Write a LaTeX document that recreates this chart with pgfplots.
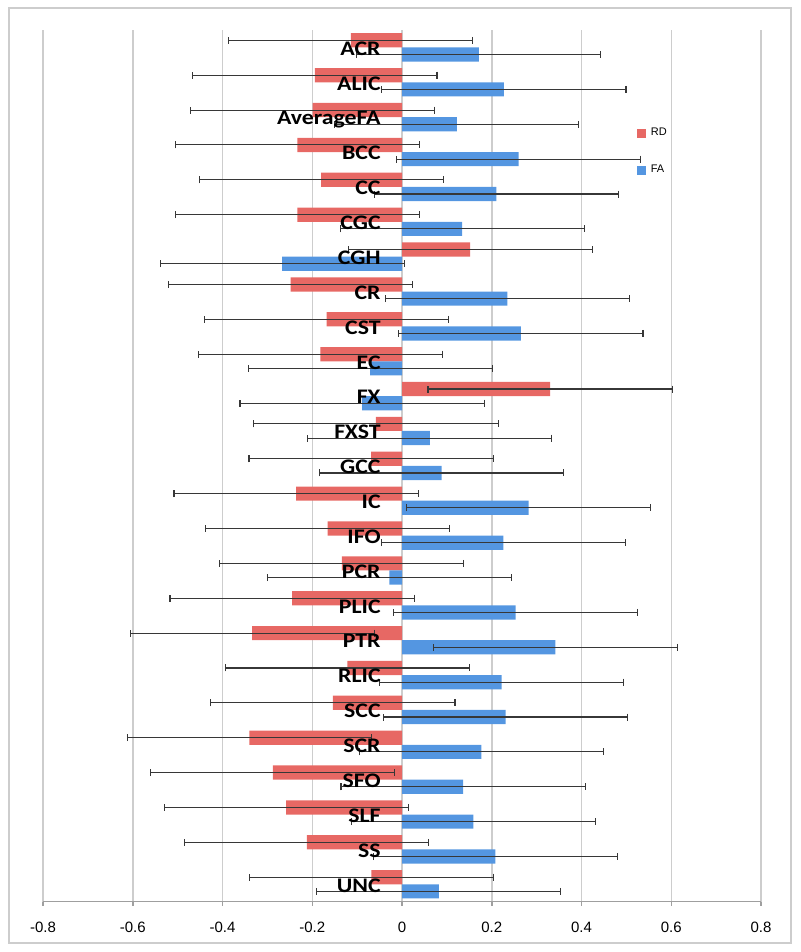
\documentclass[border=0pt]{standalone}
\usepackage{pgfplots}
\pgfplotsset{compat=1.18}
\usepackage{pgfplotstable}
\usepackage{fontspec}
\setmainfont{Liberation Sans}
\newfontfamily\catfont[FakeStretch=1.15]{Carlito}
\definecolor{rdred}{RGB}{231,104,100}
\definecolor{fablue}{RGB}{84,150,225}
\definecolor{gridgray}{RGB}{205,205,205}
\definecolor{errgray}{RGB}{55,55,55}
% idx: category position; yr / yf: bar centres of RD / FA within the slot
\pgfplotstableread{
idx yr yf rd fa err
0 -0.2035 0.2035 -0.114 0.171 0.272
1 0.7965 1.2035 -0.194 0.227 0.272
2 1.7965 2.2035 -0.199 0.122 0.272
3 2.7965 3.2035 -0.233 0.260 0.272
4 3.7965 4.2035 -0.180 0.210 0.272
5 4.7965 5.2035 -0.233 0.134 0.272
6 5.7965 6.2035 0.152 -0.267 0.272
7 6.7965 7.2035 -0.248 0.235 0.272
8 7.7965 8.2035 -0.168 0.265 0.272
9 8.7965 9.2035 -0.182 -0.071 0.272
10 9.7965 10.2035 0.330 -0.089 0.272
11 10.7965 11.2035 -0.058 0.062 0.272
12 11.7965 12.2035 -0.069 0.088 0.272
13 12.7965 13.2035 -0.236 0.282 0.272
14 13.7965 14.2035 -0.166 0.226 0.272
15 14.7965 15.2035 -0.134 -0.028 0.272
16 15.7965 16.2035 -0.245 0.253 0.272
17 16.7965 17.2035 -0.334 0.342 0.272
18 17.7965 18.2035 -0.122 0.222 0.272
19 18.7965 19.2035 -0.154 0.231 0.272
20 19.7965 20.2035 -0.340 0.177 0.272
21 20.7965 21.2035 -0.288 0.136 0.272
22 21.7965 22.2035 -0.258 0.159 0.272
23 22.7965 23.2035 -0.212 0.208 0.272
24 23.7965 24.2035 -0.068 0.082 0.272
}\data
\pgfplotsset{
  common/.style={
    at={(0pt,0pt)}, anchor=south west,
    scale only axis, width=359pt, height=435.85pt,
    xmin=-0.8, xmax=0.8, ymin=-0.5, ymax=24.5, y dir=reverse,
  },
}
\begin{document}
\begin{tikzpicture}
\useasboundingbox (-21.5pt,-25.15pt) rectangle (378.5pt,450.85pt);
\draw[gridgray, line width=0.75pt] (-17pt,-20.65pt) rectangle (374pt,446.85pt);
\begin{axis}[
  common,
  xtick={-0.8,-0.6,-0.4,-0.2,0,0.2,0.4,0.6,0.8},
  xticklabels={-0.8,-0.6,-0.4,-0.2,0,0.2,0.4,0.6,0.8},
  ytick=\empty,
  xmajorgrids, grid style={draw=gridgray, line width=0.75pt},
  axis x line*=bottom, axis y line*=left,
  x axis line style={draw=gray!75, line width=0.75pt, -},
  y axis line style={draw=none, -},
  tick align=outside, major tick length=2pt,
  xtick style={draw=gray!75, line width=0.75pt},
  xticklabel style={font=\fontsize{7.5pt}{9pt}\selectfont, yshift=-4.5pt},
  legend style={at={(axis description cs:0.8273,0.8604)}, anchor=west, draw=none, fill=none, inner sep=0pt, row sep=13pt, column sep=2.3pt,
    nodes={inner sep=0pt, anchor=west, font=\fontsize{5.5pt}{6.5pt}\selectfont}},
  legend cell align=left,
]
\addplot[xbar, bar width=0.407, bar shift=0pt, fill=rdred, draw=none, forget plot,
  error bars/.cd, x dir=both, x explicit, error mark=|,
  error bar style={draw=errgray, line width=0.55pt},
  error mark options={draw=errgray, line width=0.55pt, mark size=1.75pt}]
  table[x=rd, y=yr, x error=err] {\data};
\addplot[xbar, bar width=0.407, bar shift=0pt, fill=fablue, draw=none, forget plot,
  error bars/.cd, x dir=both, x explicit, error mark=|,
  error bar style={draw=errgray, line width=0.55pt},
  error mark options={draw=errgray, line width=0.55pt, mark size=1.75pt}]
  table[x=fa, y=yf, x error=err] {\data};
\addlegendimage{legend image code/.code={\fill[rdred] (0pt,-2pt) rectangle (4pt,2pt);}}
\addlegendentry{RD}
\addlegendimage{legend image code/.code={\fill[fablue] (0pt,-2pt) rectangle (4pt,2pt);}}
\addlegendentry{FA}
\end{axis}
% overlay axis that only carries the category labels, so they sit above the bars
\begin{axis}[
  common,
  hide x axis,
  axis y line*=left,
  y axis line style={draw=none, -},
  xtick=\empty,
  ytick={0,...,24},
  yticklabels={ACR,ALIC,AverageFA,BCC,CC,CGC,CGH,CR,CST,EC,FX,FXST,GCC,IC,IFO,PCR,PLIC,PTR,RLIC,SCC,SCR,SFO,SLF,SS,UNC},
  major tick length=0pt,
  ytick style={draw=none},
  yticklabel style={font=\catfont\bfseries\fontsize{10.35pt}{12pt}\selectfont, anchor=base east, inner sep=0pt, xshift=169pt, yshift=-3.9pt},
]
\end{axis}
\end{tikzpicture}
\end{document}
